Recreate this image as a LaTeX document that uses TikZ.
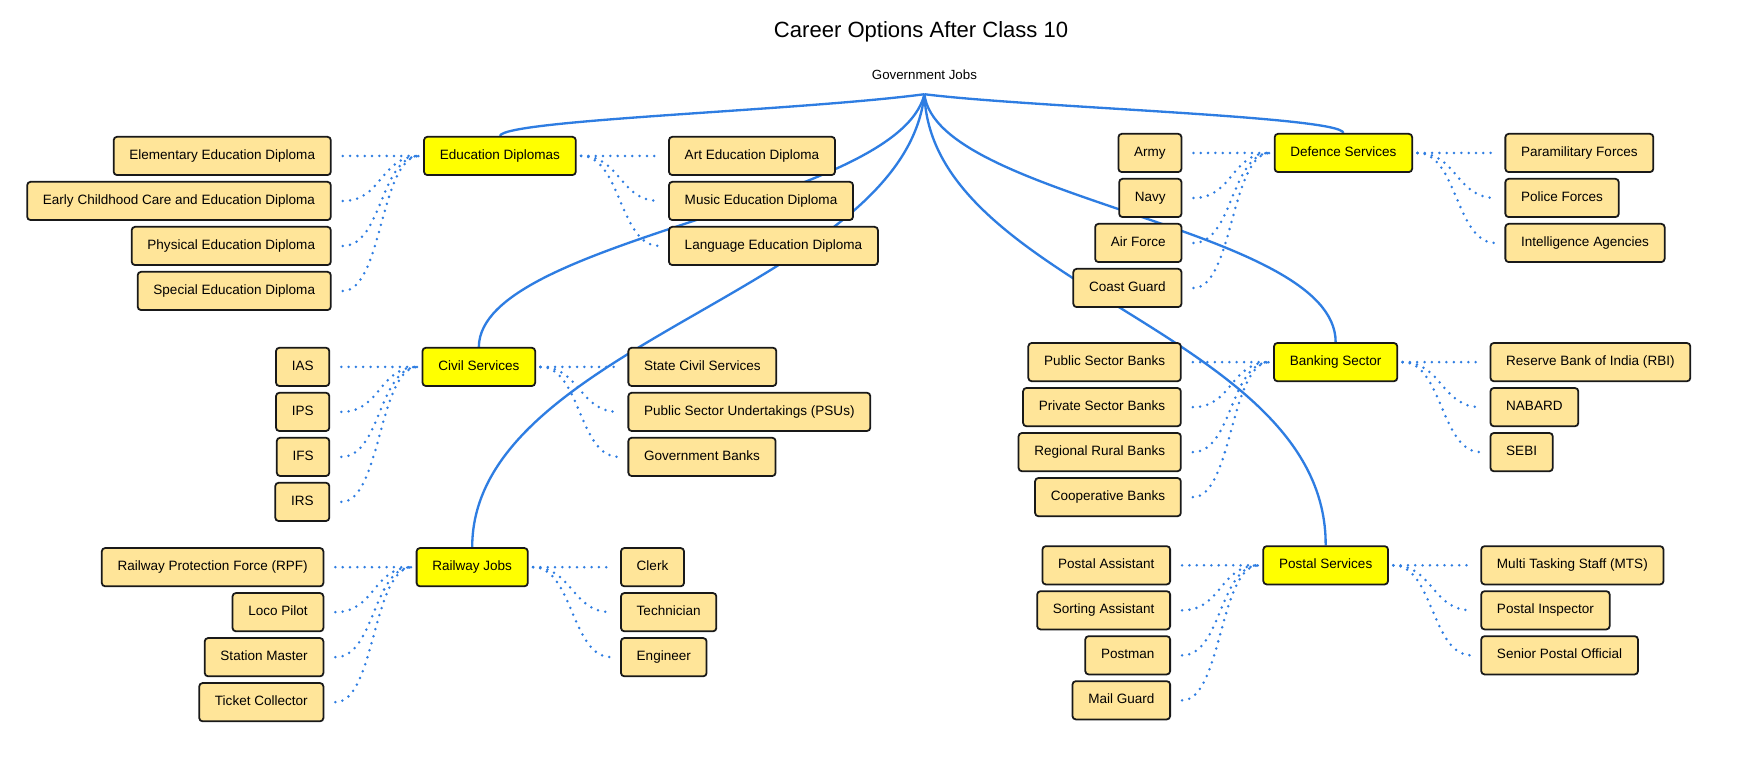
\documentclass[tikz,border=0pt]{standalone}
\usepackage{fontspec}
\setmainfont{Liberation Sans}
\usepackage{tikz}
\usetikzlibrary{positioning,backgrounds}
\definecolor{leaffill}{RGB}{255,229,153}
\definecolor{catfill}{RGB}{255,255,0}
\definecolor{linkblue}{RGB}{46,125,226}

\tikzset{
  card/.style={draw=black!90, line width=1.6pt, rectangle, rounded corners=3pt, minimum height=34.5pt, inner xsep=14.2pt, text height=9pt, text depth=2.5pt, font=\fontsize{12.2}{14}\selectfont},
  leaf/.style={card, fill=leaffill},
  cat/.style={card, fill=catfill},
  branch/.style={draw=linkblue, line width=2.1pt},
  twig/.style={draw=linkblue, line width=2.5pt, line cap=round, dash pattern=on 0pt off 6.6pt},
  twigin/.style={twig, to path={([xshift=10pt]\tikztostart.east) .. controls +(36pt,0) and +(-36pt,0) .. ([xshift=-3pt]\tikztotarget.west)}},
  twigout/.style={twig, to path={([xshift=4pt]\tikztostart.east) .. controls +(36pt,0) and +(-36pt,0) .. ([xshift=-8pt]\tikztotarget.west)}}
}

\begin{document}
\begin{tikzpicture}[x=1pt, y=-1pt]
    \useasboundingbox (0,0) rectangle (1568,705.5);

    \node[font=\fontsize{19.9}{24}\selectfont] (title) at (831,29) {Career Options After Class 10};
    \node[font=\fontsize{12}{14}\selectfont] (gov) at (834,67) {Government Jobs};
    \coordinate (root) at (834,85);

    % Education Diplomas
    \node[cat] (edu) at (451,140.7) {Education Diplomas};
    \node[leaf, left=82.5pt of edu] (elem) {Elementary Education Diploma};
    \node[leaf, below=4.5pt of elem.south east, anchor=north east] (early) {Early Childhood Care and Education Diploma};
    \node[leaf, below=4.5pt of early.south east, anchor=north east] (phys) {Physical Education Diploma};
    \node[leaf, below=4.5pt of phys.south east, anchor=north east] (spec) {Special Education Diploma};
    \node[leaf, right=82.5pt of edu] (art) {Art Education Diploma};
    \node[leaf, below=4.5pt of art.south west, anchor=north west] (music) {Music Education Diploma};
    \node[leaf, below=4.5pt of music.south west, anchor=north west] (lang) {Language Education Diploma};

    % Civil Services
    \node[cat] (civil) at (432,331) {Civil Services};
    \node[leaf, left=82.5pt of civil] (ias) {IAS};
    \node[leaf, below=4.5pt of ias.south east, anchor=north east] (ips) {IPS};
    \node[leaf, below=4.5pt of ips.south east, anchor=north east] (ifs) {IFS};
    \node[leaf, below=4.5pt of ifs.south east, anchor=north east] (irs) {IRS};
    \node[leaf, right=82.5pt of civil] (state) {State Civil Services};
    \node[leaf, below=4.5pt of state.south west, anchor=north west] (psu) {Public Sector Undertakings (PSUs)};
    \node[leaf, below=4.5pt of psu.south west, anchor=north west] (govbank) {Government Banks};

    % Railway Jobs
    \node[cat] (rail) at (426,511.7) {Railway Jobs};
    \node[leaf, left=82.5pt of rail] (rpf) {Railway Protection Force (RPF)};
    \node[leaf, below=4.5pt of rpf.south east, anchor=north east] (loco) {Loco Pilot};
    \node[leaf, below=4.5pt of loco.south east, anchor=north east] (station) {Station Master};
    \node[leaf, below=4.5pt of station.south east, anchor=north east] (ticket) {Ticket Collector};
    \node[leaf, right=82.5pt of rail] (clerk) {Clerk};
    \node[leaf, below=4.5pt of clerk.south west, anchor=north west] (tech) {Technician};
    \node[leaf, below=4.5pt of tech.south west, anchor=north west] (engr) {Engineer};

    % Defence Services
    \node[cat] (def) at (1212,138) {Defence Services};
    \node[leaf, left=82.5pt of def] (army) {Army};
    \node[leaf, below=4.5pt of army.south east, anchor=north east] (navy) {Navy};
    \node[leaf, below=4.5pt of navy.south east, anchor=north east] (air) {Air Force};
    \node[leaf, below=4.5pt of air.south east, anchor=north east] (coast) {Coast Guard};
    \node[leaf, right=82.5pt of def] (para) {Paramilitary Forces};
    \node[leaf, below=4.5pt of para.south west, anchor=north west] (police) {Police Forces};
    \node[leaf, below=4.5pt of police.south west, anchor=north west] (intel) {Intelligence Agencies};

    % Banking Sector
    \node[cat] (bank) at (1205,326.7) {Banking Sector};
    \node[leaf, left=82.5pt of bank] (pubbank) {Public Sector Banks};
    \node[leaf, below=4.5pt of pubbank.south east, anchor=north east] (privbank) {Private Sector Banks};
    \node[leaf, below=4.5pt of privbank.south east, anchor=north east] (rrb) {Regional Rural Banks};
    \node[leaf, below=4.5pt of rrb.south east, anchor=north east] (coop) {Cooperative Banks};
    \node[leaf, right=82.5pt of bank] (rbi) {Reserve Bank of India (RBI)};
    \node[leaf, below=4.5pt of rbi.south west, anchor=north west] (nabard) {NABARD};
    \node[leaf, below=4.5pt of nabard.south west, anchor=north west] (sebi) {SEBI};

    % Postal Services
    \node[cat] (post) at (1196,510) {Postal Services};
    \node[leaf, left=82.5pt of post] (passist) {Postal Assistant};
    \node[leaf, below=4.5pt of passist.south east, anchor=north east] (sorting) {Sorting Assistant};
    \node[leaf, below=4.5pt of sorting.south east, anchor=north east] (postman) {Postman};
    \node[leaf, below=4.5pt of postman.south east, anchor=north east] (mail) {Mail Guard};
    \node[leaf, right=82.5pt of post] (mts) {Multi Tasking Staff (MTS)};
    \node[leaf, below=4.5pt of mts.south west, anchor=north west] (inspector) {Postal Inspector};
    \node[leaf, below=4.5pt of inspector.south west, anchor=north west] (senior) {Senior Postal Official};

    \begin{scope}[on background layer]
        \fill[white] (0,0) rectangle (1568,705.5);
        \draw[branch] (root) .. controls (720,100) and (455,108) .. (edu.north);
        \draw[branch] (root) .. controls (930,97) and (1210,105) .. (def.north);
        \draw[branch] (root) .. controls (810,185) and (433,215) .. (civil.north);
        \draw[branch] (root) .. controls (815,260) and (426,310) .. (rail.north);
        \draw[branch] (root) .. controls (845,180) and (1205,205) .. (bank.north);
        \draw[branch] (root) .. controls (840,260) and (1197,300) .. (post.north);
    \end{scope}

    \draw[twigin] (elem) to (edu);
    \draw[twigin] (early) to (edu);
    \draw[twigin] (phys) to (edu);
    \draw[twigin] (spec) to (edu);
    \draw[twigout] (edu) to (art);
    \draw[twigout] (edu) to (music);
    \draw[twigout] (edu) to (lang);

    \draw[twigin] (ias) to (civil);
    \draw[twigin] (ips) to (civil);
    \draw[twigin] (ifs) to (civil);
    \draw[twigin] (irs) to (civil);
    \draw[twigout] (civil) to (state);
    \draw[twigout] (civil) to (psu);
    \draw[twigout] (civil) to (govbank);

    \draw[twigin] (rpf) to (rail);
    \draw[twigin] (loco) to (rail);
    \draw[twigin] (station) to (rail);
    \draw[twigin] (ticket) to (rail);
    \draw[twigout] (rail) to (clerk);
    \draw[twigout] (rail) to (tech);
    \draw[twigout] (rail) to (engr);

    \draw[twigin] (army) to (def);
    \draw[twigin] (navy) to (def);
    \draw[twigin] (air) to (def);
    \draw[twigin] (coast) to (def);
    \draw[twigout] (def) to (para);
    \draw[twigout] (def) to (police);
    \draw[twigout] (def) to (intel);

    \draw[twigin] (pubbank) to (bank);
    \draw[twigin] (privbank) to (bank);
    \draw[twigin] (rrb) to (bank);
    \draw[twigin] (coop) to (bank);
    \draw[twigout] (bank) to (rbi);
    \draw[twigout] (bank) to (nabard);
    \draw[twigout] (bank) to (sebi);

    \draw[twigin] (passist) to (post);
    \draw[twigin] (sorting) to (post);
    \draw[twigin] (postman) to (post);
    \draw[twigin] (mail) to (post);
    \draw[twigout] (post) to (mts);
    \draw[twigout] (post) to (inspector);
    \draw[twigout] (post) to (senior);
\end{tikzpicture}
\end{document}
